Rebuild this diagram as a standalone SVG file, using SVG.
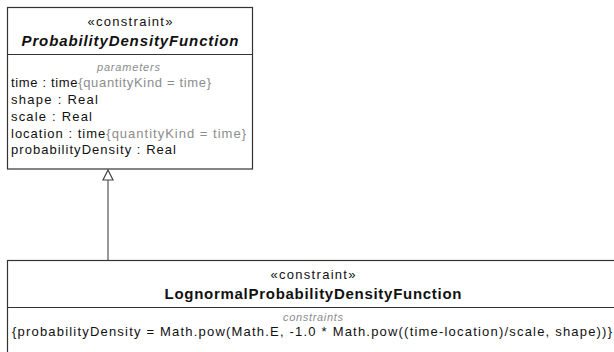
<svg xmlns="http://www.w3.org/2000/svg" width="614" height="352" viewBox="0 0 614 352">
  <style>
    .box { fill: #ffffff; stroke: #333333; stroke-width: 1.2; }
    .div { stroke: #333333; stroke-width: 1.2; }
    text { font-family: "Liberation Sans", Arial, sans-serif; fill: #111111; }
    .st { font-size: 13px; text-anchor: middle; }
    .nm { font-size: 15px; font-weight: bold; text-anchor: middle; }
    .it { font-style: italic; }
    .lbl { font-size: 11px; font-style: italic; fill: #8c8c8c; text-anchor: middle; }
    .attr { font-size: 13px; }
    .gray { fill: #8c8c8c; }
    .edge { stroke: #555555; stroke-width: 1.2; fill: none; }
    .head { fill: #ffffff; stroke: #444444; stroke-width: 1.2; }
  </style>
  <rect width="614" height="352" fill="#ffffff"/>

  <g id="connectors">
    <line class="edge" x1="108" y1="180" x2="108" y2="260"/>
    <polygon class="head" points="108,170 103,180 113,180"/>
  </g>

  <g id="ProbabilityDensityFunction">
    <rect class="box" x="7.5" y="7.5" width="245" height="161.5"/>
    <line class="div" x1="7.5" y1="54.5" x2="252.5" y2="54.5"/>
    <text class="st" x="130" y="26" textLength="85" lengthAdjust="spacing">«constraint»</text>
    <text class="nm it" x="130" y="46" textLength="217" lengthAdjust="spacing">ProbabilityDensityFunction</text>
    <text class="lbl" x="128.5" y="71" textLength="63" lengthAdjust="spacing">parameters</text>
    <text class="attr" x="11" y="87" textLength="200" lengthAdjust="spacing">time : time<tspan class="gray">{quantityKind = time}</tspan></text>
    <text class="attr" x="11" y="104" textLength="87" lengthAdjust="spacing">shape : Real</text>
    <text class="attr" x="11" y="120.5" textLength="81" lengthAdjust="spacing">scale : Real</text>
    <text class="attr" x="11" y="137.5" textLength="235" lengthAdjust="spacing">location : time<tspan class="gray">{quantityKind = time}</tspan></text>
    <text class="attr" x="11" y="154" textLength="165" lengthAdjust="spacing">probabilityDensity : Real</text>
  </g>

  <g id="LognormalProbabilityDensityFunction">
    <rect class="box" x="7.5" y="260.5" width="620" height="120"/>
    <line class="div" x1="7.5" y1="307.5" x2="614" y2="307.5"/>
    <text class="st" x="313" y="278.5" textLength="85" lengthAdjust="spacing">«constraint»</text>
    <text class="nm" x="313" y="299" textLength="297" lengthAdjust="spacing">LognormalProbabilityDensityFunction</text>
    <text class="lbl" x="313" y="321" textLength="60" lengthAdjust="spacing">constraints</text>
    <text class="attr" x="12" y="336" textLength="600" lengthAdjust="spacing">{probabilityDensity = Math.pow(Math.E, -1.0 * Math.pow((time-location)/scale, shape))}</text>
  </g>
</svg>
